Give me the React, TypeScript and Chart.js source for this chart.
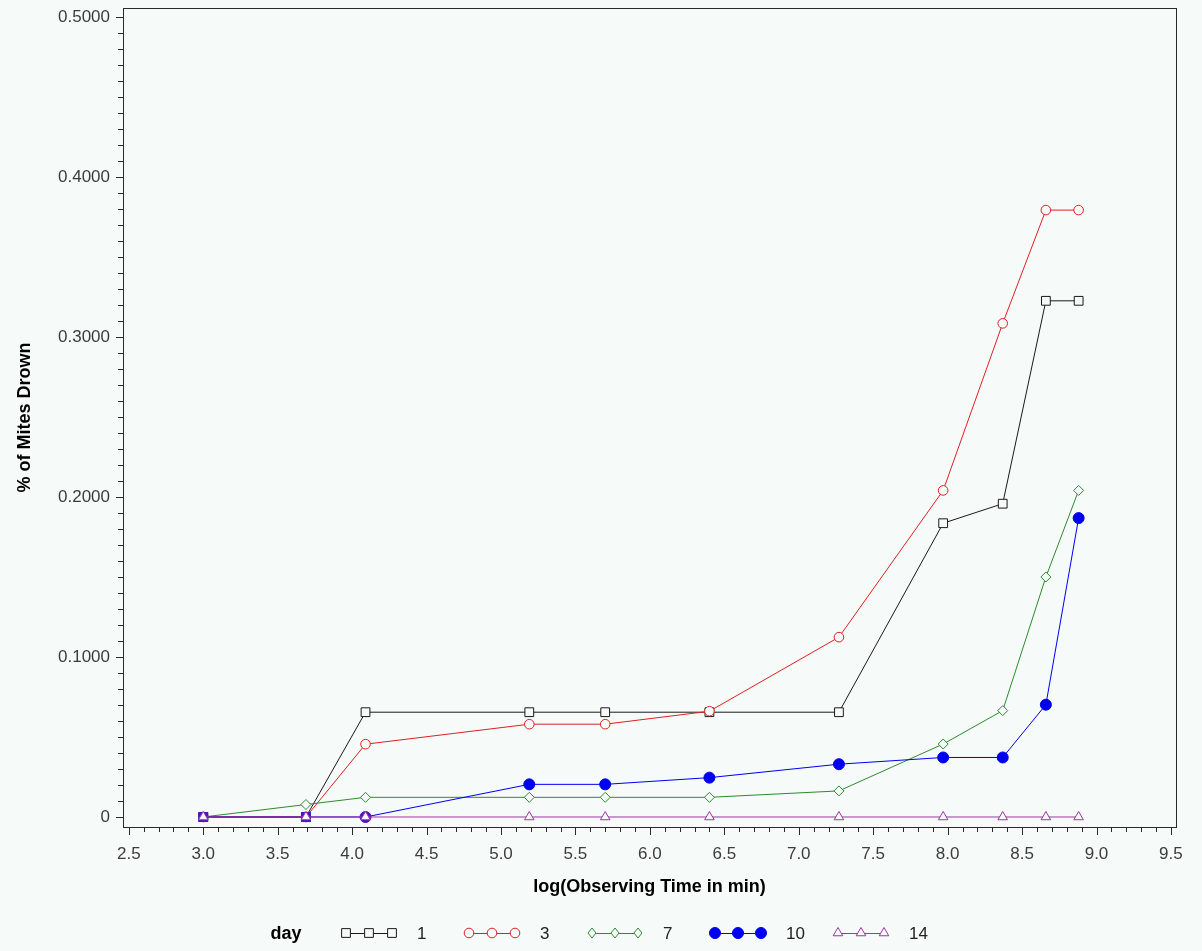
import React, { useEffect, useRef } from 'react';
import { Chart, registerables } from 'chart.js';

Chart.register(...registerables);

// log of observing time (minutes) at each reading
const logMinutes = [3.0, 3.69, 4.09, 5.19, 5.7, 6.4, 7.27, 7.97, 8.37, 8.66, 8.88];

// share of mites drowned, one series per day
const day1 = [0, 0, 0.0655, 0.0655, 0.0655, 0.0655, 0.0655, 0.1836, 0.1958, 0.3226, 0.3226];
const day3 = [0, 0, 0.0455, 0.058, 0.058, 0.0661, 0.1124, 0.2041, 0.3085, 0.3793, 0.3793];
const day7 = [0, 0.0078, 0.0123, 0.0123, 0.0123, 0.0123, 0.0163, 0.0456, 0.0665, 0.15, 0.2041];
const day10 = [0, 0, 0, 0.0204, 0.0204, 0.0246, 0.033, 0.0372, 0.0372, 0.0702, 0.1868];
const day14 = [0, 0, 0, 0, 0, 0, 0, 0, 0, 0, 0];

const dayLabels = ['1', '3', '7', '10', '14'];

const xTickValues = [2.5, 3.0, 3.5, 4.0, 4.5, 5.0, 5.5, 6.0, 6.5, 7.0, 7.5, 8.0, 8.5, 9.0, 9.5];
const xTickLabels = ['2.5', '3.0', '3.5', '4.0', '4.5', '5.0', '5.5', '6.0', '6.5', '7.0', '7.5', '8.0', '8.5', '9.0', '9.5'];
const yTickValues = [0, 0.1, 0.2, 0.3, 0.4, 0.5];
const yTickLabels = ['0', '0.1000', '0.2000', '0.3000', '0.4000', '0.5000'];

const BG = '#F6FAF8';
const FONT = '"Liberation Sans", Arial, sans-serif';
const TICK_COLOR = '#3c3c3c';

type Series = {
  label: string;
  values: number[];
  color: string;
  style: string;
  radius: number;
  filled: boolean;
};

const series: Series[] = [
  { label: dayLabels[0], values: day1, color: '#1a1a1a', style: 'rect', radius: 6.2, filled: false },
  { label: dayLabels[1], values: day3, color: '#E02020', style: 'circle', radius: 4.8, filled: false },
  { label: dayLabels[2], values: day7, color: '#2E8B2E', style: 'rectRot', radius: 5, filled: false },
  { label: dayLabels[3], values: day10, color: '#0000F0', style: 'circle', radius: 5.5, filled: true },
  { label: dayLabels[4], values: day14, color: '#A034A8', style: 'triangle', radius: 5.5, filled: false },
];

// where the coincident zero readings stack up, the markers read as one purple-blue block
const overlapColor = '#4A14C8';

function drawMarker(ctx: CanvasRenderingContext2D, s: Series, x: number, y: number) {
  const r = s.radius;
  ctx.save();
  ctx.lineWidth = 1;
  ctx.strokeStyle = s.color;
  ctx.fillStyle = s.filled ? s.color : BG;
  ctx.beginPath();
  if (s.style === 'rect') {
    const h = r * Math.SQRT1_2;
    ctx.rect(x - h, y - h, 2 * h, 2 * h);
  } else if (s.style === 'circle') {
    ctx.arc(x, y, r, 0, Math.PI * 2);
  } else if (s.style === 'rectRot') {
    ctx.moveTo(x, y - r);
    ctx.lineTo(x + r * 0.8, y);
    ctx.lineTo(x, y + r);
    ctx.lineTo(x - r * 0.8, y);
    ctx.closePath();
  } else if (s.style === 'triangle') {
    ctx.moveTo(x, y - r);
    ctx.lineTo(x + r * 0.87, y + r * 0.5);
    ctx.lineTo(x - r * 0.87, y + r * 0.5);
    ctx.closePath();
  }
  ctx.fill();
  ctx.stroke();
  ctx.restore();
}

const framePlugin = {
  id: 'frameAndLegend',
  beforeDraw(chart: any) {
    const { ctx, width, height } = chart;
    ctx.save();
    ctx.fillStyle = BG;
    ctx.fillRect(0, 0, width, height);
    ctx.restore();
  },
  afterDraw(chart: any) {
    const { ctx, chartArea } = chart;
    const { left, right, top, bottom } = chartArea;
    const xs = chart.scales.x;
    const ys = chart.scales.y;
    ctx.save();
    ctx.strokeStyle = '#2a2a2a';
    ctx.lineWidth = 1;
    ctx.strokeRect(Math.round(left) + 0.5, Math.round(top) + 0.5, Math.round(right - left), Math.round(bottom - top));

    // x axis ticks every 0.1, longer at each labelled value
    ctx.beginPath();
    for (let i = 25; i <= 95; i++) {
      const px = Math.round(xs.getPixelForValue(i / 10)) + 0.5;
      const len = i % 5 === 0 ? 8 : 5;
      ctx.moveTo(px, bottom);
      ctx.lineTo(px, bottom + len);
    }
    // y axis ticks every 0.01, longer at each labelled value
    for (let i = 0; i <= 50; i++) {
      const py = Math.round(ys.getPixelForValue(i / 100)) + 0.5;
      const len = i % 10 === 0 ? 7 : 5;
      ctx.moveTo(left, py);
      ctx.lineTo(left - len, py);
    }
    ctx.stroke();

    // legend row
    const ly = 933;
    ctx.fillStyle = '#000';
    ctx.font = `bold 18px ${FONT}`;
    ctx.textAlign = 'center';
    ctx.textBaseline = 'middle';
    ctx.fillText('day', 286, ly + 1);
    series.forEach((s, i) => {
      const x0 = 346 + i * 123;
      ctx.strokeStyle = s.color;
      ctx.lineWidth = 1;
      ctx.beginPath();
      ctx.moveTo(x0 - 3, ly + 0.5);
      ctx.lineTo(x0 + 49, ly + 0.5);
      ctx.stroke();
      for (let k = 0; k < 3; k++) drawMarker(ctx, s, x0 + k * 23, ly);
      ctx.fillStyle = '#222';
      ctx.font = `17px ${FONT}`;
      ctx.textAlign = 'left';
      ctx.fillText(s.label, x0 + 71, ly + 1);
    });
    ctx.restore();
  },
};

export default function App() {
  const canvasRef = useRef<HTMLCanvasElement | null>(null);

  useEffect(() => {
    document.body.style.margin = '0';
    document.body.style.background = BG;
    const canvas = canvasRef.current;
    if (!canvas) return;

    const datasets = series.map((s, idx) => {
      const isDay10 = s.label === '10';
      const pointStyle = s.values.map((_, i) => (isDay10 && i < 2 ? 'rect' : s.style));
      const pointColor = s.values.map((_, i) => (isDay10 && i < 3 ? overlapColor : s.color));
      const pointFill = s.values.map((_, i) =>
        isDay10 && i < 3 ? overlapColor : s.filled ? s.color : BG
      );
      const pointRadius = s.values.map((_, i) => (isDay10 && i < 2 ? 6.4 : s.radius));
      return {
        label: s.label,
        data: logMinutes.map((x, i) => ({ x, y: s.values[i] })),
        borderColor: s.color,
        borderWidth: 1,
        backgroundColor: s.color,
        pointStyle,
        pointRadius,
        pointBorderColor: pointColor,
        pointBackgroundColor: pointFill,
        pointBorderWidth: 1,
        tension: 0,
        fill: false,
        order: series.length - 1 - idx,
        clip: false as any,
      };
    });

    const chart = new Chart(canvas, {
      type: 'line',
      data: { datasets: datasets as any },
      plugins: [framePlugin],
      options: {
        responsive: false,
        animation: false,
        devicePixelRatio: 1,
        layout: { padding: { top: 8, right: 26, left: 0, bottom: 0 } },
        plugins: {
          legend: { display: false },
          tooltip: { enabled: false },
        },
        scales: {
          x: {
            type: 'linear',
            position: 'bottom',
            min: 2.461,
            max: 9.534,
            grid: { display: false, drawTicks: false },
            border: { display: false },
            afterBuildTicks: (scale: any) => {
              scale.ticks = xTickValues.map((v) => ({ value: v }));
            },
            afterFit: (scale: any) => {
              scale.height = 124;
              scale.paddingLeft = 0;
              scale.paddingRight = 0;
            },
            ticks: {
              padding: 17,
              color: TICK_COLOR,
              font: { family: FONT, size: 17 },
              maxRotation: 0,
              autoSkip: false,
              callback: (v: any) => {
                const i = xTickValues.findIndex((t) => Math.abs(t - Number(v)) < 1e-6);
                return i >= 0 ? xTickLabels[i] : '';
              },
            },
            title: {
              display: true,
              text: 'log(Observing Time in min)',
              color: '#000',
              font: { family: FONT, size: 18, weight: 'bold' },
              padding: { top: 0, bottom: 53 },
            },
          },
          y: {
            type: 'linear',
            min: -0.00625,
            max: 0.5056,
            grid: { display: false, drawTicks: false },
            border: { display: false },
            afterBuildTicks: (scale: any) => {
              scale.ticks = yTickValues.map((v) => ({ value: v }));
            },
            afterFit: (scale: any) => {
              scale.width = 123;
              scale.paddingTop = 0;
              scale.paddingBottom = 0;
            },
            ticks: {
              padding: 13,
              color: TICK_COLOR,
              font: { family: FONT, size: 17 },
              autoSkip: false,
              callback: (v: any) => {
                const i = yTickValues.findIndex((t) => Math.abs(t - Number(v)) < 1e-6);
                return i >= 0 ? yTickLabels[i] : '';
              },
            },
            title: {
              display: true,
              text: '% of Mites Drown',
              color: '#000',
              font: { family: FONT, size: 18, weight: 'bold' },
              padding: { top: 14, bottom: 0 },
            },
          },
        },
      } as any,
    });

    return () => chart.destroy();
  }, []);

  return (
    <div style={{ width: 1202, height: 951, background: BG }}>
      <canvas ref={canvasRef} width={1202} height={951} style={{ display: 'block' }} />
    </div>
  );
}
